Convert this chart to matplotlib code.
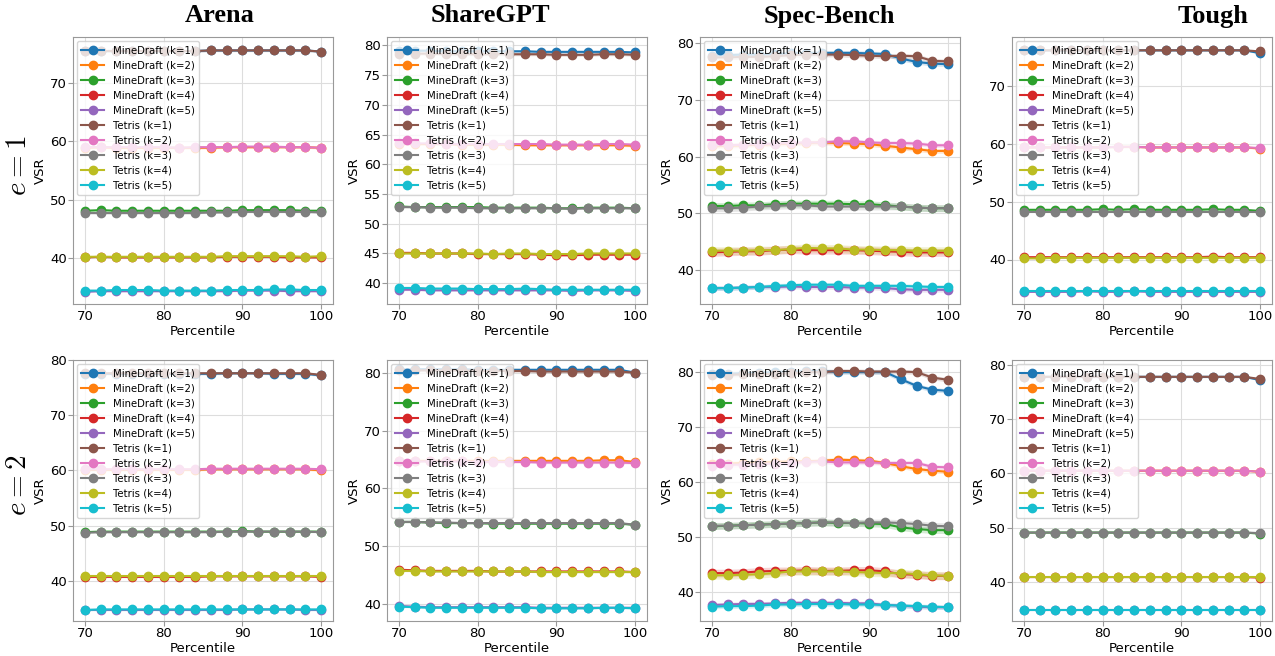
import matplotlib
matplotlib.use("Agg")
import matplotlib.pyplot as plt
import numpy as np

plt.rcParams['mathtext.fontset'] = 'cm'

PERCENTILES = [70, 72, 74, 76, 78, 80, 82, 84, 86, 88, 90, 92, 94, 96, 98, 100]
DATASETS = ["Arena", "ShareGPT", "Spec-Bench", "Tough"]
ROW_LABELS = ["$e=1$", "$e=2$"]
METHODS = ["MineDraft", "Tetris"]
KS = [1, 2, 3, 4, 5]

# ---------------- e = 1 ----------------
ARENA_E1_MINEDRAFT = [
    [75.5, 75.5, 75.5, 75.5, 75.5, 75.5, 75.5, 75.5, 75.6, 75.6, 75.6, 75.6, 75.6, 75.6, 75.6, 75.4],
    [58.9, 59.0, 58.9, 58.9, 58.9, 58.9, 58.9, 58.9, 58.9, 59.0, 59.0, 59.0, 59.0, 59.0, 59.0, 58.9],
    [48.1, 48.2, 48.1, 48.1, 48.1, 48.1, 48.1, 48.1, 48.1, 48.1, 48.2, 48.2, 48.2, 48.2, 48.1, 48.1],
    [40.1, 40.2, 40.1, 40.1, 40.1, 40.1, 40.1, 40.1, 40.1, 40.2, 40.2, 40.2, 40.2, 40.1, 40.1, 40.1],
    [34.2, 34.3, 34.3, 34.3, 34.3, 34.3, 34.3, 34.3, 34.3, 34.3, 34.4, 34.4, 34.4, 34.3, 34.3, 34.3],
]
ARENA_E1_TETRIS = [
    [75.5, 75.5, 75.5, 75.5, 75.5, 75.5, 75.5, 75.5, 75.6, 75.6, 75.6, 75.6, 75.6, 75.6, 75.6, 75.4],
    [59.0, 59.0, 59.0, 59.0, 59.0, 59.0, 58.9, 59.0, 59.0, 59.0, 59.1, 59.1, 59.1, 59.0, 59.0, 58.9],
    [47.7, 47.7, 47.7, 47.7, 47.7, 47.7, 47.7, 47.7, 47.8, 47.8, 47.9, 47.9, 47.9, 47.9, 47.9, 47.8],
    [40.2, 40.2, 40.2, 40.2, 40.2, 40.2, 40.2, 40.2, 40.2, 40.3, 40.3, 40.3, 40.3, 40.3, 40.2, 40.3],
    [34.4, 34.4, 34.5, 34.5, 34.5, 34.4, 34.4, 34.4, 34.4, 34.5, 34.5, 34.5, 34.6, 34.6, 34.5, 34.5],
]
SHAREGPT_E1_MINEDRAFT = [
    [79.1, 79.1, 79.1, 79.0, 79.0, 79.0, 79.0, 79.0, 79.0, 78.9, 78.9, 78.9, 78.9, 78.9, 78.9, 78.8],
    [63.4, 63.4, 63.4, 63.4, 63.3, 63.3, 63.3, 63.3, 63.2, 63.2, 63.2, 63.2, 63.2, 63.2, 63.2, 63.1],
    [52.9, 52.8, 52.8, 52.8, 52.8, 52.8, 52.7, 52.7, 52.7, 52.7, 52.6, 52.6, 52.7, 52.7, 52.7, 52.6],
    [45.1, 45.1, 45.0, 45.0, 45.0, 44.9, 44.9, 44.9, 44.9, 44.8, 44.7, 44.7, 44.8, 44.8, 44.8, 44.8],
    [38.9, 38.9, 38.8, 38.8, 38.8, 38.8, 38.8, 38.8, 38.8, 38.8, 38.8, 38.7, 38.8, 38.8, 38.8, 38.7],
]
SHAREGPT_E1_TETRIS = [
    [78.6, 78.6, 78.6, 78.5, 78.5, 78.5, 78.5, 78.5, 78.5, 78.5, 78.4, 78.4, 78.4, 78.5, 78.5, 78.4],
    [63.5, 63.5, 63.5, 63.4, 63.4, 63.4, 63.4, 63.4, 63.4, 63.4, 63.3, 63.3, 63.3, 63.4, 63.4, 63.3],
    [52.8, 52.8, 52.7, 52.7, 52.7, 52.6, 52.6, 52.6, 52.6, 52.6, 52.6, 52.5, 52.6, 52.6, 52.6, 52.6],
    [45.0, 45.0, 45.0, 45.0, 45.0, 45.0, 44.9, 45.0, 45.0, 44.9, 44.9, 44.9, 45.0, 45.0, 45.0, 45.0],
    [39.2, 39.2, 39.1, 39.1, 39.1, 39.0, 39.0, 39.0, 39.1, 39.0, 38.9, 38.9, 38.9, 38.9, 38.9, 38.9],
]
SPECBENCH_E1_MINEDRAFT = [
    [77.8, 77.9, 78.0, 78.0, 78.1, 78.2, 78.3, 78.3, 78.3, 78.3, 78.2, 78.1, 77.3, 76.7, 76.4, 76.3],
    [61.8, 61.9, 62.0, 62.1, 62.2, 62.3, 62.4, 62.5, 62.4, 62.3, 62.2, 61.9, 61.6, 61.3, 61.0, 61.0],
    [51.3, 51.3, 51.4, 51.4, 51.6, 51.7, 51.7, 51.7, 51.7, 51.6, 51.6, 51.4, 51.2, 51.0, 50.9, 50.9],
    [43.1, 43.2, 43.3, 43.3, 43.5, 43.6, 43.5, 43.5, 43.5, 43.5, 43.4, 43.3, 43.2, 43.1, 43.1, 43.1],
    [36.8, 36.8, 36.9, 37.0, 37.0, 37.1, 37.0, 37.0, 37.0, 36.9, 36.9, 36.8, 36.6, 36.5, 36.5, 36.5],
]
SPECBENCH_E1_TETRIS = [
    [77.5, 77.5, 77.6, 77.6, 77.7, 77.9, 78.0, 78.0, 78.0, 77.9, 77.8, 77.7, 77.8, 77.7, 76.9, 76.8],
    [62.0, 62.0, 62.1, 62.2, 62.3, 62.4, 62.5, 62.5, 62.7, 62.7, 62.5, 62.4, 62.4, 62.3, 62.0, 62.0],
    [50.9, 50.9, 51.0, 51.2, 51.3, 51.4, 51.4, 51.2, 51.2, 51.2, 51.2, 51.2, 51.2, 51.0, 50.9, 50.9],
    [43.4, 43.4, 43.4, 43.5, 43.5, 43.7, 43.9, 43.8, 43.8, 43.6, 43.6, 43.5, 43.5, 43.4, 43.4, 43.4],
    [36.8, 36.8, 36.9, 37.0, 37.2, 37.3, 37.4, 37.4, 37.4, 37.2, 37.2, 37.2, 37.2, 37.1, 37.0, 37.0],
]
TOUGH_E1_MINEDRAFT = [
    [76.2, 76.2, 76.2, 76.2, 76.2, 76.2, 76.2, 76.2, 76.2, 76.2, 76.2, 76.2, 76.2, 76.2, 76.2, 75.7],
    [59.4, 59.4, 59.4, 59.4, 59.4, 59.4, 59.5, 59.5, 59.4, 59.4, 59.4, 59.4, 59.4, 59.4, 59.4, 59.2],
    [48.6, 48.6, 48.6, 48.6, 48.6, 48.7, 48.6, 48.7, 48.6, 48.6, 48.6, 48.6, 48.7, 48.6, 48.6, 48.4],
    [40.4, 40.4, 40.4, 40.4, 40.4, 40.4, 40.4, 40.4, 40.4, 40.4, 40.4, 40.4, 40.5, 40.4, 40.4, 40.4],
    [34.4, 34.4, 34.4, 34.4, 34.5, 34.4, 34.4, 34.5, 34.4, 34.4, 34.4, 34.4, 34.4, 34.4, 34.4, 34.4],
]
TOUGH_E1_TETRIS = [
    [76.2, 76.2, 76.2, 76.2, 76.2, 76.2, 76.2, 76.2, 76.2, 76.2, 76.2, 76.2, 76.2, 76.2, 76.2, 76.0],
    [59.4, 59.4, 59.4, 59.4, 59.4, 59.4, 59.5, 59.5, 59.4, 59.4, 59.4, 59.4, 59.4, 59.4, 59.4, 59.3],
    [48.3, 48.3, 48.3, 48.3, 48.3, 48.3, 48.3, 48.3, 48.3, 48.3, 48.3, 48.3, 48.3, 48.3, 48.3, 48.3],
    [40.2, 40.2, 40.3, 40.3, 40.3, 40.3, 40.3, 40.3, 40.3, 40.3, 40.3, 40.3, 40.3, 40.3, 40.3, 40.3],
    [34.5, 34.5, 34.5, 34.5, 34.5, 34.5, 34.5, 34.5, 34.5, 34.5, 34.5, 34.5, 34.5, 34.5, 34.5, 34.5],
]

# ---------------- e = 2 ----------------
ARENA_E2_MINEDRAFT = [
    [77.5, 77.5, 77.5, 77.5, 77.5, 77.5, 77.5, 77.5, 77.5, 77.6, 77.6, 77.6, 77.5, 77.5, 77.5, 77.2],
    [60.1, 60.1, 60.1, 60.1, 60.1, 60.1, 60.1, 60.1, 60.2, 60.2, 60.2, 60.2, 60.2, 60.2, 60.2, 60.0],
    [48.8, 48.9, 48.9, 48.9, 48.9, 48.9, 48.9, 48.9, 48.9, 48.9, 49.0, 48.9, 48.9, 48.9, 48.9, 48.9],
    [40.7, 40.7, 40.7, 40.7, 40.7, 40.7, 40.7, 40.7, 40.8, 40.8, 40.8, 40.8, 40.8, 40.8, 40.8, 40.7],
    [34.7, 34.7, 34.7, 34.7, 34.7, 34.7, 34.7, 34.7, 34.7, 34.7, 34.8, 34.8, 34.8, 34.8, 34.7, 34.7],
]
ARENA_E2_TETRIS = [
    [77.6, 77.6, 77.6, 77.6, 77.6, 77.6, 77.6, 77.6, 77.6, 77.6, 77.6, 77.6, 77.6, 77.6, 77.6, 77.3],
    [60.2, 60.2, 60.2, 60.2, 60.2, 60.2, 60.2, 60.2, 60.3, 60.3, 60.3, 60.3, 60.3, 60.3, 60.3, 60.2],
    [48.7, 48.8, 48.8, 48.8, 48.8, 48.8, 48.8, 48.8, 48.8, 48.9, 48.9, 48.9, 48.9, 48.9, 48.9, 48.8],
    [40.9, 40.9, 40.9, 40.9, 40.9, 40.9, 40.9, 40.9, 40.9, 40.9, 40.9, 40.9, 40.9, 40.9, 40.9, 40.9],
    [34.7, 34.8, 34.8, 34.8, 34.8, 34.8, 34.8, 34.8, 34.8, 34.8, 34.8, 34.8, 34.8, 34.8, 34.8, 34.8],
]
SHAREGPT_E2_MINEDRAFT = [
    [80.7, 80.7, 80.7, 80.7, 80.7, 80.6, 80.6, 80.6, 80.6, 80.6, 80.6, 80.6, 80.6, 80.6, 80.6, 80.1],
    [64.8, 64.8, 64.8, 64.8, 64.8, 64.8, 64.8, 64.8, 64.8, 64.8, 64.8, 64.8, 64.8, 64.9, 64.9, 64.6],
    [54.2, 54.2, 54.1, 54.0, 54.0, 54.0, 53.9, 53.9, 53.9, 53.9, 53.9, 53.9, 53.9, 53.9, 53.9, 53.7],
    [45.9, 45.8, 45.7, 45.7, 45.7, 45.7, 45.6, 45.6, 45.6, 45.6, 45.6, 45.6, 45.6, 45.6, 45.6, 45.5],
    [39.6, 39.5, 39.4, 39.4, 39.4, 39.4, 39.4, 39.4, 39.4, 39.3, 39.3, 39.3, 39.3, 39.3, 39.3, 39.3],
]
SHAREGPT_E2_TETRIS = [
    [80.5, 80.5, 80.5, 80.5, 80.5, 80.4, 80.4, 80.4, 80.4, 80.3, 80.3, 80.3, 80.3, 80.3, 80.3, 80.1],
    [64.7, 64.7, 64.7, 64.7, 64.7, 64.6, 64.6, 64.6, 64.6, 64.5, 64.5, 64.5, 64.5, 64.5, 64.5, 64.4],
    [54.2, 54.2, 54.1, 54.1, 54.0, 54.0, 54.0, 54.0, 54.0, 54.0, 54.0, 54.0, 54.0, 54.0, 54.0, 53.7],
    [45.7, 45.7, 45.6, 45.6, 45.6, 45.6, 45.6, 45.6, 45.6, 45.5, 45.5, 45.5, 45.5, 45.5, 45.5, 45.5],
    [39.5, 39.4, 39.3, 39.3, 39.3, 39.3, 39.3, 39.3, 39.3, 39.2, 39.2, 39.2, 39.2, 39.3, 39.3, 39.2],
]
SPECBENCH_E2_MINEDRAFT = [
    [79.6, 79.7, 79.8, 79.9, 80.0, 80.1, 80.2, 80.2, 80.0, 80.0, 80.0, 80.0, 78.7, 77.5, 76.8, 76.6],
    [63.3, 63.4, 63.5, 63.6, 63.7, 63.8, 63.8, 63.9, 64.1, 64.0, 63.9, 63.5, 62.9, 62.4, 62.1, 61.9],
    [52.0, 52.1, 52.2, 52.3, 52.4, 52.5, 52.6, 52.7, 52.6, 52.6, 52.5, 52.4, 51.8, 51.5, 51.3, 51.3],
    [43.5, 43.5, 43.6, 43.8, 43.9, 43.9, 44.0, 43.9, 43.9, 44.0, 44.0, 43.8, 43.3, 43.2, 43.0, 43.0],
    [37.7, 37.8, 37.9, 37.9, 38.0, 38.1, 38.1, 38.1, 38.1, 38.0, 38.0, 37.7, 37.6, 37.4, 37.3, 37.3],
]
SPECBENCH_E2_TETRIS = [
    [79.5, 79.5, 79.6, 79.6, 79.7, 79.8, 80.0, 80.0, 80.2, 80.2, 80.1, 80.1, 80.1, 80.0, 79.0, 78.6],
    [63.0, 63.2, 63.2, 63.3, 63.4, 63.5, 63.7, 63.8, 63.6, 63.6, 63.6, 63.5, 63.5, 63.5, 62.8, 62.7],
    [52.1, 52.1, 52.2, 52.3, 52.4, 52.5, 52.6, 52.7, 52.7, 52.6, 52.7, 52.7, 52.6, 52.4, 52.1, 52.0],
    [43.1, 43.1, 43.2, 43.3, 43.5, 43.8, 43.8, 43.8, 43.8, 43.7, 43.6, 43.5, 43.5, 43.3, 43.1, 43.0],
    [37.4, 37.5, 37.5, 37.6, 37.8, 37.8, 37.9, 37.9, 37.9, 37.8, 37.8, 37.7, 37.6, 37.5, 37.4, 37.3],
]
TOUGH_E2_MINEDRAFT = [
    [77.8, 77.8, 77.8, 77.8, 77.8, 77.8, 77.8, 77.8, 77.8, 77.8, 77.8, 77.8, 77.8, 77.8, 77.8, 77.2],
    [60.5, 60.5, 60.5, 60.5, 60.5, 60.5, 60.5, 60.5, 60.5, 60.5, 60.5, 60.5, 60.5, 60.5, 60.5, 60.3],
    [49.1, 49.1, 49.1, 49.1, 49.1, 49.1, 49.1, 49.1, 49.1, 49.1, 49.1, 49.1, 49.1, 49.1, 49.1, 48.9],
    [40.9, 40.9, 40.9, 40.9, 40.9, 40.9, 40.9, 40.9, 40.9, 40.9, 40.9, 40.9, 40.9, 40.9, 40.9, 40.8],
    [34.8, 34.8, 34.8, 34.8, 34.8, 34.8, 34.8, 34.8, 34.8, 34.8, 34.8, 34.8, 34.8, 34.8, 34.8, 34.8],
]
TOUGH_E2_TETRIS = [
    [77.8, 77.8, 77.8, 77.8, 77.8, 77.8, 77.8, 77.8, 77.8, 77.8, 77.8, 77.8, 77.8, 77.8, 77.8, 77.4],
    [60.5, 60.5, 60.5, 60.5, 60.5, 60.5, 60.5, 60.5, 60.5, 60.5, 60.5, 60.5, 60.5, 60.5, 60.5, 60.3],
    [49.1, 49.1, 49.1, 49.1, 49.1, 49.1, 49.1, 49.1, 49.1, 49.1, 49.1, 49.1, 49.1, 49.1, 49.1, 49.0],
    [41.0, 41.0, 41.0, 41.0, 41.0, 41.0, 41.0, 41.0, 41.0, 41.0, 41.0, 41.0, 41.0, 41.0, 41.0, 41.0],
    [34.9, 34.9, 34.9, 34.9, 34.9, 34.9, 34.9, 34.9, 34.9, 34.9, 34.9, 34.9, 34.9, 34.9, 34.9, 34.9],
]

# estimated half-width of the shaded band (per k), per dataset
SPREAD_ARENA = [0.2, 0.2, 0.15, 0.15, 0.15]
SPREAD_SHAREGPT = [0.25, 0.2, 0.15, 0.15, 0.15]
SPREAD_SPECBENCH = [0.4, 0.4, 0.6, 0.7, 0.4]
SPREAD_TOUGH = [0.15, 0.15, 0.1, 0.1, 0.1]

# y-axis ranges
YLIMS_E1 = [(32.1, 77.9), (36.5, 81.4), (34.0, 81.1), (32.3, 78.5)]
YLIMS_E2 = [(32.7, 80.0), (37.0, 82.3), (34.8, 82.2), (32.8, 80.9)]

PANELS = [
    [(ARENA_E1_MINEDRAFT, ARENA_E1_TETRIS, SPREAD_ARENA),
     (SHAREGPT_E1_MINEDRAFT, SHAREGPT_E1_TETRIS, SPREAD_SHAREGPT),
     (SPECBENCH_E1_MINEDRAFT, SPECBENCH_E1_TETRIS, SPREAD_SPECBENCH),
     (TOUGH_E1_MINEDRAFT, TOUGH_E1_TETRIS, SPREAD_TOUGH)],
    [(ARENA_E2_MINEDRAFT, ARENA_E2_TETRIS, SPREAD_ARENA),
     (SHAREGPT_E2_MINEDRAFT, SHAREGPT_E2_TETRIS, SPREAD_SHAREGPT),
     (SPECBENCH_E2_MINEDRAFT, SPECBENCH_E2_TETRIS, SPREAD_SPECBENCH),
     (TOUGH_E2_MINEDRAFT, TOUGH_E2_TETRIS, SPREAD_TOUGH)],
]
YLIMS = [YLIMS_E1, YLIMS_E2]

W, H = 1275, 656
fig = plt.figure(figsize=(W / 100, H / 100), dpi=100)

col_left = [73, 387, 700, 1012]
col_w = 260
row_top = [37, 360]
row_bottom = [304, 621]

colors = plt.rcParams['axes.prop_cycle'].by_key()['color']
x = np.array(PERCENTILES)
spine_col = '#999999'

for r in range(2):
    for c in range(4):
        l = col_left[c] / W
        b = 1 - row_bottom[r] / H
        h = (row_bottom[r] - row_top[r]) / H
        ax = fig.add_axes([l, b, col_w / W, h])
        md, te, spread = PANELS[r][c]
        idx = 0
        for mname, series in zip(METHODS, [md, te]):
            for ki, k in enumerate(KS):
                y = np.array(series[ki])
                col = colors[idx % 10]
                ax.fill_between(x, y - spread[ki], y + spread[ki], color=col, alpha=0.2, linewidth=0)
                ax.plot(x, y, marker='o', markersize=6, linewidth=1.5, color=col,
                        label=f"{mname} (k={k})")
                idx += 1
        ax.set_ylim(*YLIMS[r][c])
        ax.set_xticks([70, 80, 90, 100])
        ax.grid(True, color='#dddddd', linewidth=0.8)
        ax.set_axisbelow(True)
        for s in ax.spines.values():
            s.set_color(spine_col)
        ax.tick_params(labelsize=9.5, color=spine_col, pad=1)
        ax.set_xlabel("Percentile", fontsize=9.5, labelpad=1)
        ax.set_ylabel("VSR", fontsize=9.5, labelpad=2)
        ax.legend(loc='upper left', fontsize=7.3, framealpha=0.8, borderaxespad=0.4,
                  handlelength=2.3)

title_x = [220, 490, 829, 1213]
for tx, name in zip(title_x, DATASETS):
    fig.text(tx / W, 1 - 16 / H, name, ha='center', va='center', fontsize=19,
             fontweight='bold', family='Liberation Serif')

for r, lab in enumerate(ROW_LABELS):
    yc = 1 - ((row_top[r] + row_bottom[r]) / 2 - 5) / H
    fig.text(18 / W, yc, lab, ha='center', va='center', rotation=90, fontsize=21)

fig.savefig("out.png", dpi=100)
